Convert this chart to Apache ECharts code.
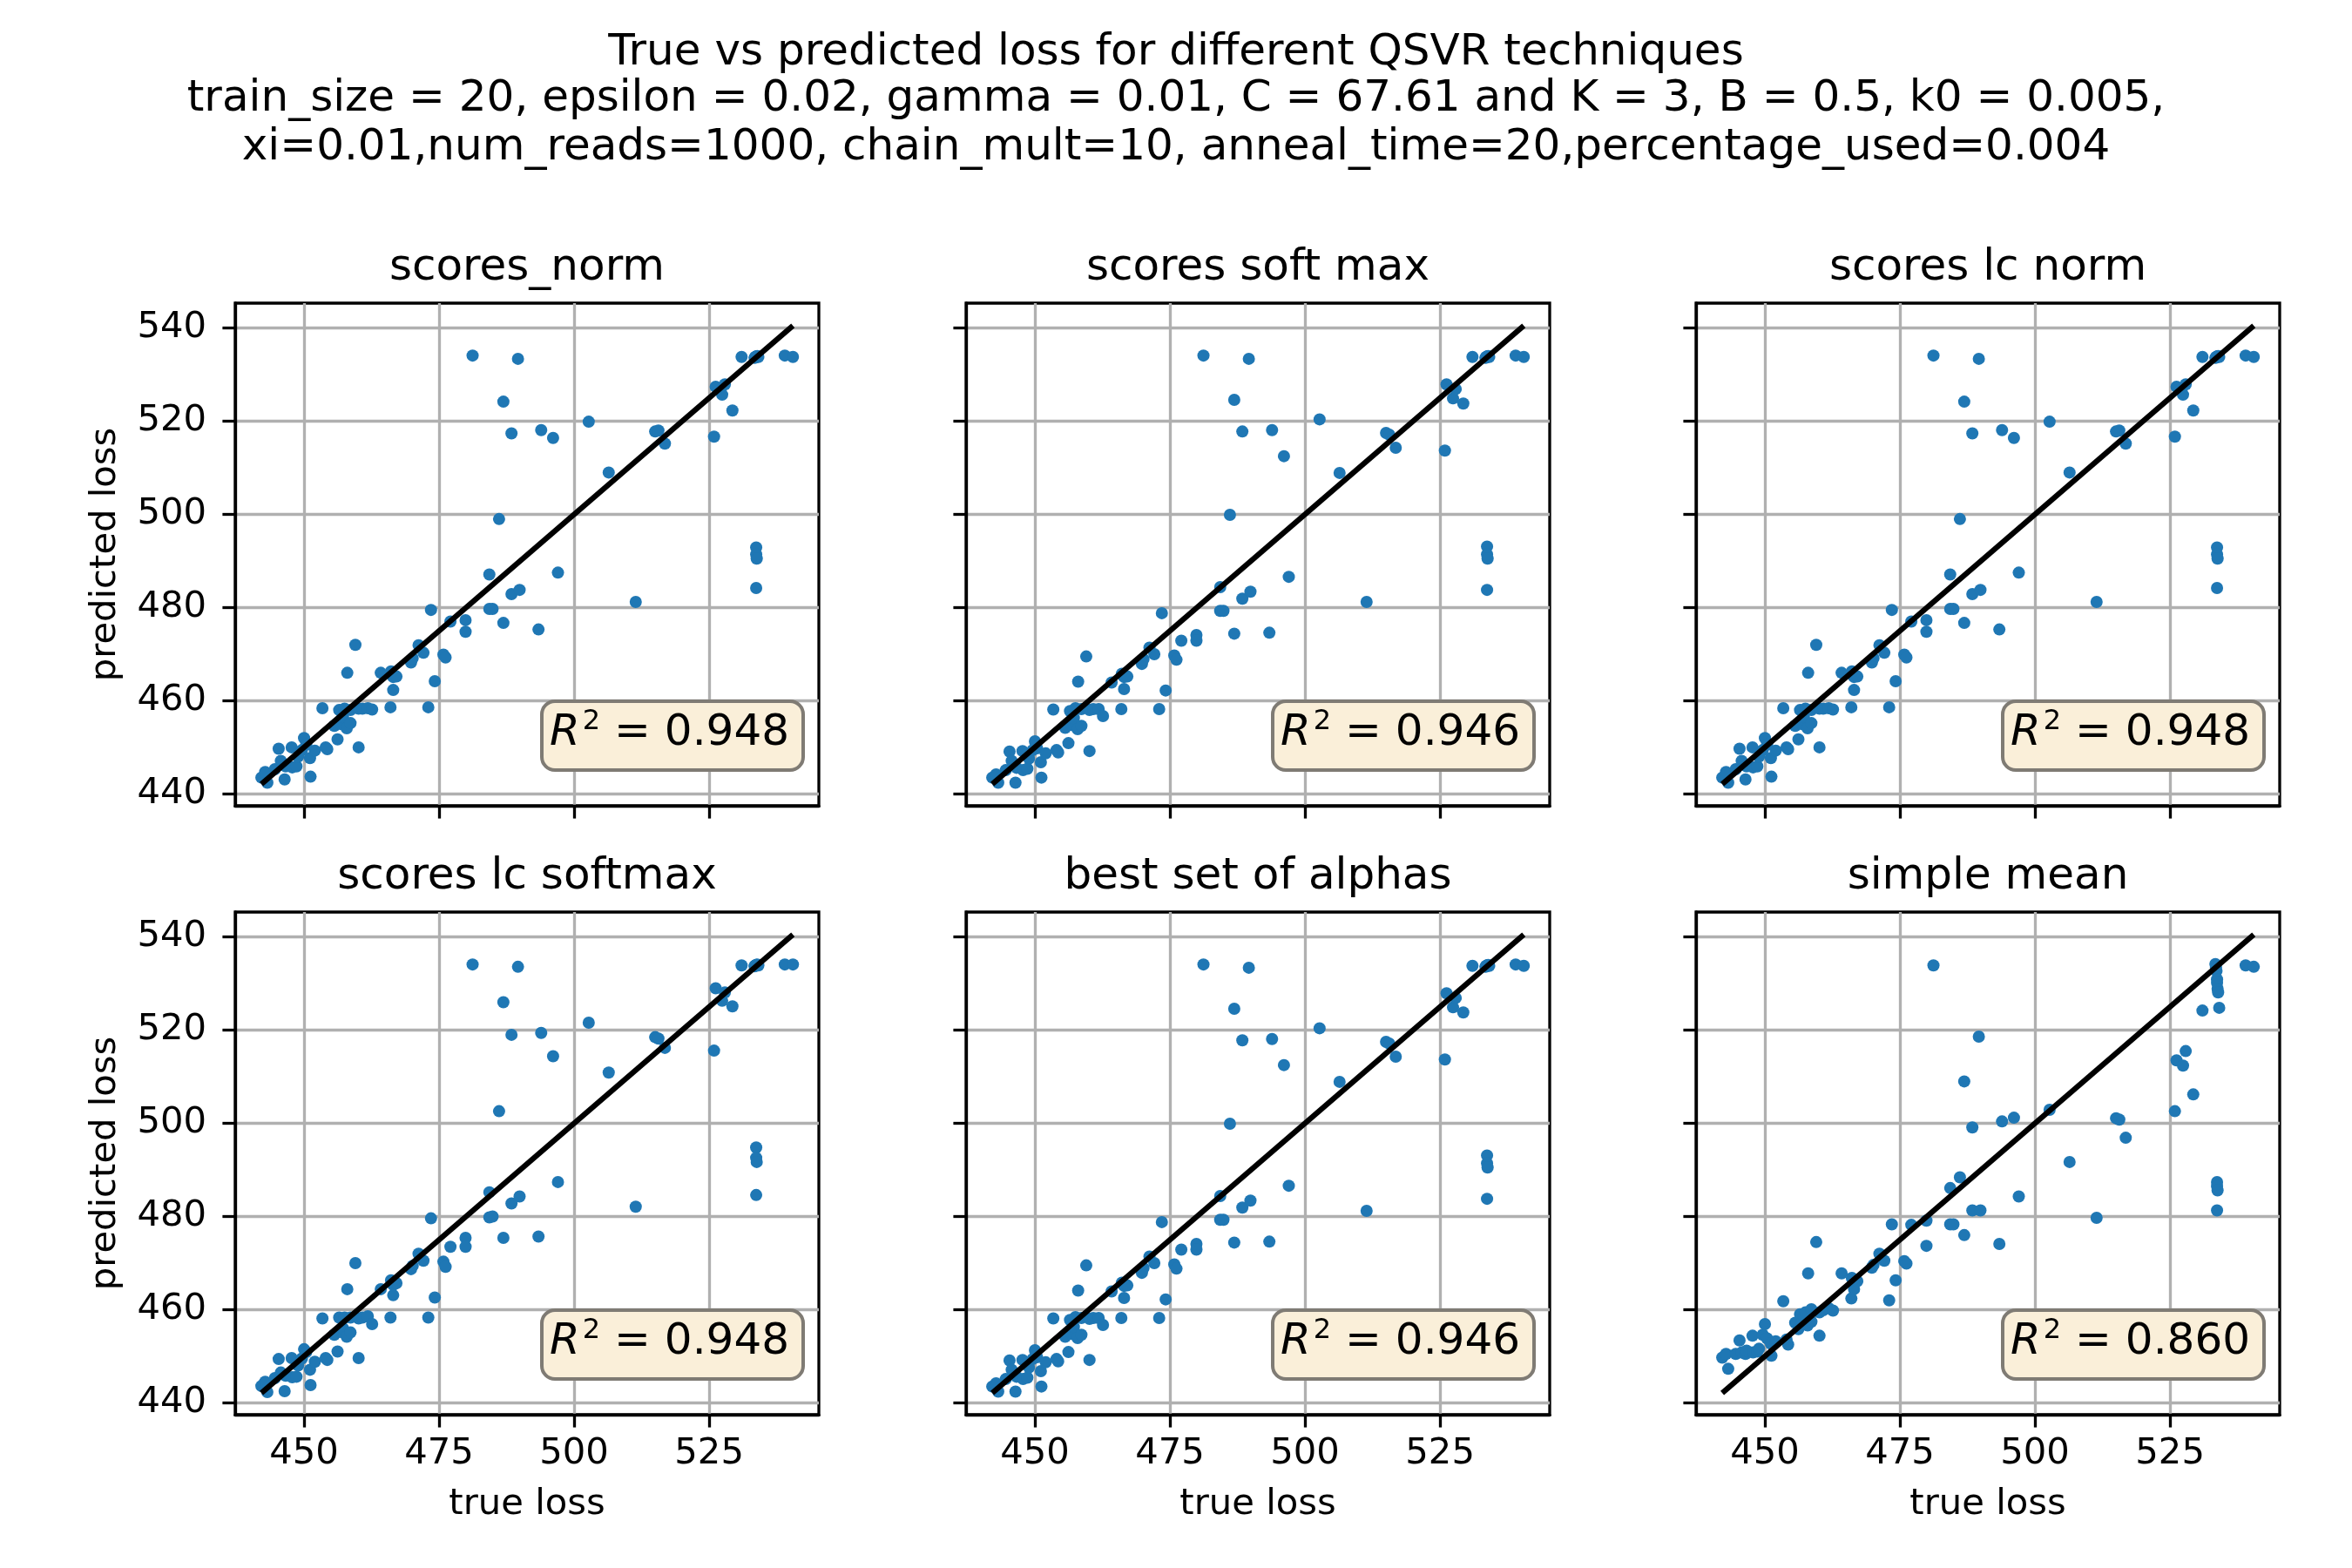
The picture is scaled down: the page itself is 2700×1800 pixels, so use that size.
<!DOCTYPE html>
<html>
<head>
<meta charset="utf-8">
<title>True vs predicted loss</title>
<script src="https://cdn.jsdelivr.net/npm/echarts@6/dist/echarts.min.js"></script>
<style>
  html, body { margin: 0; padding: 0; background: #fff; }
  #main { width: 2700px; height: 1800px; }
</style>
</head>
<body>
<div id="main"></div>
<script>
// true loss (same for every panel)
var trueLoss = [
  442.1, 442.8, 443.2, 444.6, 445.3, 445.7, 446.4, 446.6, 447.7, 447.8,
  448.6, 448.9, 449.6, 450.0, 450.4, 451.1, 451.2, 452.0, 453.4, 454.0,
  454.3, 455.6, 456.2, 456.5, 456.8, 457.2, 457.5, 457.9, 458.0, 458.6,
  458.6, 459.5, 460.1, 460.1, 460.8, 461.8, 462.6, 464.2, 466.0, 466.1,
  466.5, 466.5, 467.1, 469.8, 470.1, 471.2, 472.1, 473.0, 473.5, 474.2,
  475.8, 476.2, 477.1, 479.9, 479.9, 481.2, 484.3, 484.3, 484.9, 486.1,
  486.9, 486.9, 488.4, 488.4, 489.6, 489.9, 493.4, 493.9, 496.1, 497.0,
  502.7, 506.4, 511.4, 515.0, 515.6, 516.8, 525.9, 526.2, 527.4, 527.9,
  529.3, 531.0,
  533.4, 533.5, 533.6, 533.7, 533.7, 533.8, 533.9, 534.1,
  533.7, 533.7, 533.8, 533.7,
  539.0, 540.5
];

var predNorm = [
  443.5, 444.7, 442.4, 445.3, 449.7, 447.1, 443.1, 445.9, 450.0, 445.7,
  445.9, 448.0, 449.4, 452.0, 450.6, 447.7, 443.7, 449.3, 458.4, 450.0,
  449.6, 454.6, 451.7, 458.0, 455.0, 456.5, 458.3, 454.1, 466.0, 455.2,
  458.0, 472.0, 450.0, 458.3, 458.3, 458.4, 458.1, 466.0, 458.6, 466.3,
  465.1, 462.3, 465.2, 468.2, 469.1, 471.9, 470.3, 458.6, 479.5, 464.2,
  469.9, 469.3, 477.0, 477.3, 474.8, 534.1, 487.1, 479.7, 479.7, 499.0,
  524.2, 476.7, 517.4, 482.9, 533.4, 483.8, 475.3, 518.1, 516.4, 487.5,
  519.9, 509.0, 481.2, 517.8, 518.0, 515.2, 516.7, 527.4, 525.7, 527.9,
  522.3, 533.8,
  533.6, 533.7, 533.8, 533.9, 533.8, 533.9, 534.0, 533.8,
  492.9, 491.4, 490.5, 484.2,
  534.1, 533.8
];

var predSoftMax = [
  443.5, 444.2, 442.4, 445.1, 449.1, 447.1, 442.4, 445.6, 449.2, 445.1,
  445.4, 447.6, 449.4, 451.3, 449.8, 446.8, 443.5, 448.7, 458.1, 449.4,
  448.9, 454.2, 450.9, 457.8, 454.8, 456.3, 458.4, 453.9, 464.1, 454.6,
  458.2, 469.5, 449.2, 458.0, 458.2, 458.2, 456.7, 463.9, 458.2, 465.8,
  465.1, 462.5, 465.2, 467.9, 468.9, 471.4, 470.0, 458.2, 478.8, 462.2,
  469.7, 468.8, 472.9, 474.1, 472.9, 534.1, 484.4, 479.3, 479.3, 499.9,
  524.6, 474.4, 517.8, 481.9, 533.4, 483.4, 474.6, 518.1, 512.5, 486.6,
  520.4, 508.9, 481.2, 517.5, 517.1, 514.3, 513.7, 527.9, 524.9, 526.9,
  523.8, 533.8,
  533.6, 533.7, 533.8, 533.9, 533.8, 533.9, 534.0, 533.8,
  493.1, 491.4, 490.5, 483.8,
  534.1, 533.8
];

var predLcNorm = [
  443.5, 444.7, 442.4, 445.3, 449.7, 447.1, 443.1, 445.9, 450.0, 445.7,
  445.9, 448.0, 449.4, 452.0, 450.6, 447.7, 443.7, 449.3, 458.4, 450.0,
  449.6, 454.6, 451.7, 458.0, 455.0, 456.5, 458.3, 454.1, 466.0, 455.2,
  458.0, 472.0, 450.0, 458.3, 458.3, 458.4, 458.1, 466.0, 458.6, 466.3,
  465.1, 462.3, 465.2, 468.2, 469.1, 471.9, 470.3, 458.6, 479.5, 464.2,
  469.9, 469.3, 477.0, 477.3, 474.8, 534.1, 487.1, 479.7, 479.7, 499.0,
  524.2, 476.7, 517.4, 482.9, 533.4, 483.8, 475.3, 518.1, 516.4, 487.5,
  519.9, 509.0, 481.2, 517.8, 518.0, 515.2, 516.7, 527.4, 525.7, 527.9,
  522.3, 533.8,
  533.6, 533.7, 533.8, 533.9, 533.8, 533.9, 534.0, 533.8,
  492.9, 491.4, 490.5, 484.2,
  534.1, 533.8
];

var predLcSoftmax = [
  443.6, 444.5, 442.3, 445.3, 449.4, 446.5, 442.5, 445.8, 449.6, 445.5,
  445.6, 448.0, 449.5, 451.5, 450.9, 447.1, 443.8, 448.8, 458.1, 449.6,
  449.2, 454.6, 451.0, 458.3, 455.2, 456.0, 458.3, 454.2, 464.4, 455.1,
  458.3, 470.0, 449.6, 458.1, 458.3, 458.6, 456.9, 464.4, 458.3, 466.3,
  465.3, 463.1, 465.7, 468.7, 469.4, 472.0, 470.5, 458.3, 479.6, 462.6,
  470.3, 469.2, 473.5, 475.4, 473.5, 534.1, 485.2, 479.8, 480.0, 502.6,
  526.0, 475.4, 519.0, 482.8, 533.6, 484.3, 475.7, 519.4, 514.4, 487.4,
  521.6, 510.9, 482.1, 518.5, 518.2, 516.2, 515.6, 529.0, 526.3, 528.1,
  525.1, 533.9,
  533.7, 533.8, 533.9, 534.0, 533.9, 534.0, 534.1, 533.9,
  494.8, 492.6, 491.7, 484.6,
  534.1, 534.1
];

var predBestAlphas = [
  443.5, 444.2, 442.4, 445.1, 449.1, 447.1, 442.4, 445.6, 449.2, 445.1,
  445.4, 447.6, 449.4, 451.3, 449.8, 446.8, 443.5, 448.7, 458.1, 449.4,
  448.9, 454.2, 450.9, 457.8, 454.8, 456.3, 458.4, 453.9, 464.1, 454.6,
  458.2, 469.5, 449.2, 458.0, 458.2, 458.2, 456.7, 463.9, 458.2, 465.8,
  465.1, 462.5, 465.2, 467.9, 468.9, 471.4, 470.0, 458.2, 478.8, 462.2,
  469.7, 468.8, 472.9, 474.1, 472.9, 534.1, 484.4, 479.3, 479.3, 499.9,
  524.6, 474.4, 517.8, 481.9, 533.4, 483.4, 474.6, 518.1, 512.5, 486.6,
  520.4, 508.9, 481.2, 517.5, 517.1, 514.3, 513.7, 527.9, 524.9, 526.9,
  523.8, 533.8,
  533.6, 533.7, 533.8, 533.9, 533.8, 533.9, 534.0, 533.8,
  493.1, 491.4, 490.5, 483.8,
  534.1, 533.8
];

var predMean = [
  449.7, 450.5, 447.3, 450.5, 453.4, 450.8, 450.5, 451.2, 454.4, 450.8,
  451.0, 451.6, 454.6, 456.9, 453.8, 452.7, 450.1, 453.2, 461.8, 453.6,
  452.5, 457.2, 455.8, 459.0, 457.2, 458.6, 459.4, 456.6, 467.8, 457.4,
  460.1, 474.5, 454.4, 459.4, 459.9, 460.3, 459.8, 467.8, 462.4, 466.8,
  465.6, 464.4, 466.1, 469.0, 469.6, 472.0, 470.5, 462.0, 478.3, 466.3,
  470.4, 469.9, 478.2, 479.1, 473.7, 533.9, 486.1, 478.3, 478.3, 488.4,
  509.0, 476.0, 499.1, 481.3, 518.6, 481.3, 474.1, 500.4, 501.2, 484.3,
  502.9, 491.7, 479.7, 501.1, 500.8, 496.9, 502.6, 513.5, 512.4, 515.5,
  506.2, 524.2,
  534.2, 533.5, 532.7, 530.9, 530.2, 528.9, 528.1, 524.8,
  487.4, 486.5, 485.6, 481.3,
  533.9, 533.6
];

var panelTitles = ['scores_norm', 'scores soft max', 'scores lc norm',
                   'scores lc softmax', 'best set of alphas', 'simple mean'];
var panelPreds = [predNorm, predSoftMax, predLcNorm, predLcSoftmax, predBestAlphas, predMean];
var r2Values = ['0.948', '0.946', '0.948', '0.948', '0.946', '0.860'];

var xTicks = [450, 475, 500, 525];
var yTicks = [440, 460, 480, 500, 520, 540];

var titleLines = [
  'True vs predicted loss for different QSVR techniques',
  'train_size = 20, epsilon = 0.02, gamma = 0.01, C = 67.61 and K = 3, B = 0.5, k0 = 0.005,',
  'xi=0.01,num_reads=1000, chain_mult=10, anneal_time=20,percentage_used=0.004'
];

// layout (px)
var colLeft = [270, 1109, 1947];
var rowTop = [348, 1047];
var W = 670, H = 577;
var FONT = 'DejaVu Sans';
var BIG = 50, SMALL = 41.7;

var lo = Math.min.apply(null, trueLoss);
var hi = Math.max.apply(null, trueLoss);

var grids = [], xAxes = [], yAxes = [], series = [], graphics = [];

titleLines.forEach(function (t, k) {
  graphics.push({
    type: 'text', x: 1350, y: [61, 114.5, 170][k],
    style: { text: t, fontFamily: FONT, fontSize: BIG, fill: '#000',
             align: 'center', verticalAlign: 'middle' }
  });
});

for (var i = 0; i < 6; i++) {
  var row = Math.floor(i / 3), col = i % 3;
  var L = colLeft[col], T = rowTop[row];
  grids.push({ left: L, top: T, width: W, height: H, show: true,
               borderColor: '#000', borderWidth: 3.3, backgroundColor: '#fff',
               outerBoundsMode: 'none' });
  xAxes.push({
    type: 'value', gridIndex: i, min: 437.25, max: 545.3,
    axisLine: { show: true, onZero: false, lineStyle: { color: '#000', width: 3.3 } },
    axisTick: { show: true, length: 14.6, customValues: xTicks,
                lineStyle: { color: '#000', width: 3.3 } },
    axisLabel: { show: row === 1, customValues: xTicks, fontFamily: FONT,
                 fontSize: SMALL, color: '#000', margin: 24 },
    splitLine: { show: true, lineStyle: { color: '#b0b0b0', width: 3.3 } }
  });
  yAxes.push({
    type: 'value', gridIndex: i, min: 437.45, max: 545.35,
    axisLine: { show: true, onZero: false, lineStyle: { color: '#000', width: 3.3 } },
    axisTick: { show: true, length: 14.6, customValues: yTicks,
                lineStyle: { color: '#000', width: 3.3 } },
    axisLabel: { show: col === 0, customValues: yTicks, fontFamily: FONT,
                 fontSize: SMALL, color: '#000', margin: 33 },
    splitLine: { show: true, lineStyle: { color: '#b0b0b0', width: 3.3 } }
  });
  var pred = panelPreds[i];
  series.push({
    type: 'scatter', xAxisIndex: i, yAxisIndex: i, symbolSize: 14, z: 3,
    itemStyle: { color: '#1f77b4', opacity: 1 },
    data: trueLoss.map(function (x, j) { return [x, pred[j]]; })
  });
  series.push({
    type: 'line', xAxisIndex: i, yAxisIndex: i, symbol: 'none', z: 4,
    lineStyle: { color: '#000', width: 6.25 },
    data: [[lo, lo], [hi, hi]]
  });

  // subplot title
  graphics.push({
    type: 'text', x: L + W / 2, y: T - 40,
    style: { text: panelTitles[i], fontFamily: FONT, fontSize: BIG, fill: '#000',
             align: 'center', verticalAlign: 'middle' }
  });
  // R^2 box
  graphics.push({
    type: 'rect', z: 100,
    shape: { x: L + 352, y: T + 457, width: 300, height: 79, r: 15 },
    style: { fill: '#faefd9', stroke: '#7f7b74', lineWidth: 4 }
  });
  graphics.push({
    type: 'text', z: 101, x: L + 636, y: T + 494,
    style: {
      text: '{r|R}{s|2}{n| = ' + r2Values[i] + '}',
      align: 'right', verticalAlign: 'middle', fill: '#000',
      rich: {
        r: { fontFamily: FONT, fontSize: BIG, fontStyle: 'italic', fill: '#000', lineHeight: 58 },
        s: { fontFamily: FONT, fontSize: 32, verticalAlign: 'top', fill: '#000', padding: [0, 0, 0, 3] },
        n: { fontFamily: FONT, fontSize: BIG, fill: '#000', lineHeight: 58 }
      }
    }
  });
  if (row === 1) {
    graphics.push({
      type: 'text', x: L + W / 2, y: 1727.6,
      style: { text: 'true loss', fontFamily: FONT, fontSize: SMALL, fill: '#000',
               align: 'center', verticalAlign: 'middle' }
    });
  }
  if (col === 0) {
    graphics.push({
      type: 'text', x: 121, y: T + H / 2, rotation: Math.PI / 2,
      style: { text: 'predicted loss', fontFamily: FONT, fontSize: SMALL, fill: '#000',
               align: 'center', verticalAlign: 'middle' }
    });
  }
}

var chart = echarts.init(document.getElementById('main'), null, { renderer: 'canvas' });
chart.setOption({
  backgroundColor: '#fff',
  animation: false,
  grid: grids,
  xAxis: xAxes,
  yAxis: yAxes,
  series: series,
  graphic: graphics
});
</script>
</body>
</html>
